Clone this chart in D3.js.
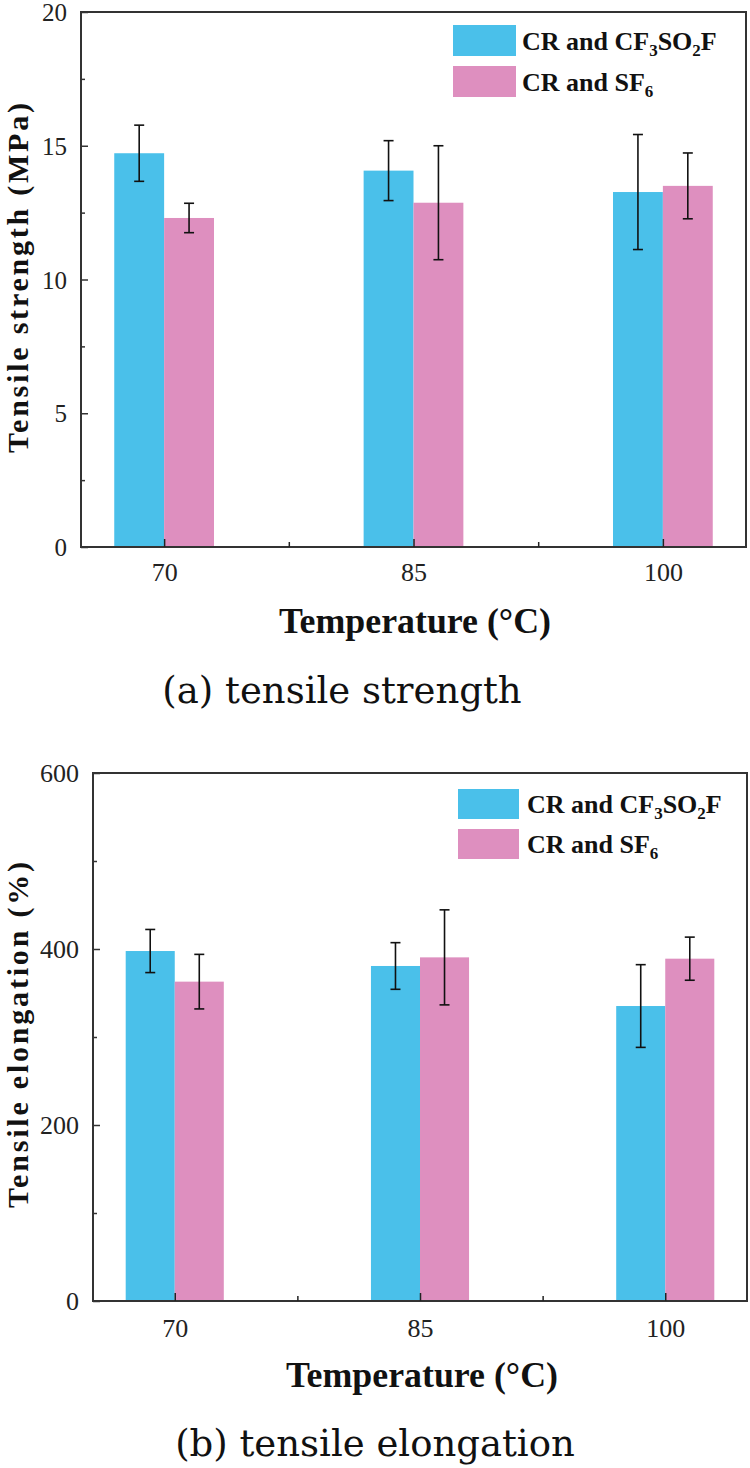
<!DOCTYPE html>
<html>
<head>
<meta charset="utf-8">
<script src="https://cdn.jsdelivr.net/npm/d3@7"></script>
<style>
  html, body { margin: 0; padding: 0; background: #fff; }
  svg { display: block; }
</style>
</head>
<body>
<div id="chart"></div>
<script>
// ---------------- data ----------------
const temperatures = [70, 85, 100];
const xTickValues = [70, 85, 100];
const xMinorTicks = [77.5, 92.5];

const seriesNames = ["CR and CF3SO2F", "CR and SF6"];

const strengthCF3SO2F = [14.72, 14.07, 13.27];
const strengthCF3SO2FErr = [1.05, 1.12, 2.15];
const strengthSF6 = [12.30, 12.87, 13.50];
const strengthSF6Err = [0.55, 2.13, 1.23];
const strengthTicks = [0, 5, 10, 15, 20];
const strengthMinorTicks = [2.5, 7.5, 12.5, 17.5];

const elongationCF3SO2F = [397.7, 380.7, 335.2];
const elongationCF3SO2FErr = [24.5, 26.5, 47];
const elongationSF6 = [362.9, 390.5, 389.0];
const elongationSF6Err = [31, 54, 24.5];
const elongationTicks = [0, 200, 400, 600];
const elongationMinorTicks = [100, 300, 500];

// ---------------- style ----------------
const COLORS = ["#4AC0EA", "#DE8FBF"];
const SERIF = "Liberation Serif";
const CAPTION_FONT = "DejaVu Serif";
const BAR_W = 3; // bar width in temperature units

const W = 750, H = 1468;
const svg = d3.select("#chart").append("svg")
  .attr("width", W).attr("height", H);

function drawPanel(p) {
  const x = d3.scaleLinear().domain([65, 105]).range([p.left, p.right]);
  const y = d3.scaleLinear().domain(p.yDomain).range([p.bottom, p.top]);
  const g = svg.append("g");

  const series = [
    { vals: p.s1, errs: p.e1, color: COLORS[0], off: -BAR_W },
    { vals: p.s2, errs: p.e2, color: COLORS[1], off: 0 }
  ];

  // bars
  series.forEach(s => {
    g.selectAll(null).data(temperatures).enter().append("rect")
      .attr("x", (t) => x(t + s.off))
      .attr("width", (t) => x(t + s.off + BAR_W) - x(t + s.off))
      .attr("y", (t, i) => y(s.vals[i]))
      .attr("height", (t, i) => y(0) - y(s.vals[i]))
      .attr("fill", s.color);
  });

  // error bars
  series.forEach(s => {
    temperatures.forEach((t, i) => {
      const cx = x(t + s.off + BAR_W / 2);
      const hi = y(s.vals[i] + s.errs[i]);
      const lo = y(s.vals[i] - s.errs[i]);
      g.append("line").attr("x1", cx).attr("x2", cx).attr("y1", hi).attr("y2", lo)
        .attr("stroke", "#111").attr("stroke-width", 1.6);
      [hi, lo].forEach(v => g.append("line")
        .attr("x1", cx - 5).attr("x2", cx + 5).attr("y1", v).attr("y2", v)
        .attr("stroke", "#111").attr("stroke-width", 1.6));
    });
  });

  // frame
  g.append("rect")
    .attr("x", p.left).attr("y", p.top)
    .attr("width", p.right - p.left).attr("height", p.bottom - p.top)
    .attr("fill", "none").attr("stroke", "#333").attr("stroke-width", 2);

  // y axis (ticks inward)
  const yAxis = d3.axisLeft(y).tickValues(p.yTicks).tickSize(-7).tickPadding(20)
    .tickFormat(d3.format("d"));
  const ya = g.append("g").attr("transform", `translate(${p.left},0)`).call(yAxis);
  ya.attr("font-family", null).attr("font-size", null);
  ya.select(".domain").remove();
  ya.selectAll(".tick line").attr("stroke", "#333").attr("stroke-width", 1.5);
  ya.selectAll(".tick text").style("font-family", SERIF).style("font-size", p.yTickFont + "px")
    .attr("fill", "#222").attr("x", -14).attr("dy", "0.34em");
  const yMinor = d3.axisLeft(y).tickValues(p.yMinor).tickSize(-4).tickFormat("");
  const ym = g.append("g").attr("transform", `translate(${p.left},0)`).call(yMinor);
  ym.select(".domain").remove();
  ym.selectAll(".tick line").attr("stroke", "#333").attr("stroke-width", 1.5);

  // x axis (ticks inward)
  const xAxis = d3.axisBottom(x).tickValues(xTickValues).tickSize(-8).tickPadding(0)
    .tickFormat(d3.format("d"));
  const xa = g.append("g").attr("transform", `translate(0,${p.bottom})`).call(xAxis);
  xa.attr("font-family", null).attr("font-size", null);
  xa.select(".domain").remove();
  xa.selectAll(".tick line").attr("stroke", "#222").attr("stroke-width", 1.5);
  xa.selectAll(".tick text").style("font-family", SERIF).style("font-size", "26px")
    .attr("fill", "#222").attr("y", p.xTickBaseline - p.bottom).attr("dy", 0);
  const xMinor = d3.axisBottom(x).tickValues(xMinorTicks).tickSize(-5).tickFormat("");
  const xm = g.append("g").attr("transform", `translate(0,${p.bottom})`).call(xMinor);
  xm.select(".domain").remove();
  xm.selectAll(".tick line").attr("stroke", "#222").attr("stroke-width", 1.5);

  // x title
  g.append("text").attr("x", p.xTitleX).attr("y", p.xTitleY)
    .attr("text-anchor", "middle").style("font-family", SERIF).style("font-weight", "bold")
    .style("font-size", "35px").attr("fill", "#111")
    .attr("textLength", 272).attr("lengthAdjust", "spacingAndGlyphs")
    .text("Temperature (°C)");

  // y title
  g.append("text")
    .attr("transform", `translate(28,${p.yTitleY}) rotate(-90)`)
    .attr("text-anchor", "middle").style("font-family", SERIF).style("font-weight", "bold")
    .style("font-size", "30px").attr("fill", "#111")
    .attr("textLength", p.yTitleLen).attr("lengthAdjust", "spacing")
    .text(p.yTitle);

  // caption
  g.append("text").attr("x", p.capX).attr("y", p.capY)
    .attr("text-anchor", "middle").style("font-family", CAPTION_FONT)
    .style("font-size", "37px").attr("fill", "#111").text(p.caption);

  // legend
  const L = p.legend;
  [0, 1].forEach(i => {
    g.append("rect").attr("x", L.x).attr("y", L.y + i * L.gap)
      .attr("width", L.w).attr("height", L.h).attr("fill", COLORS[i]);
  });
  const t1 = g.append("text").attr("x", L.tx).attr("y", L.y + L.h / 2 + 9)
    .style("font-family", SERIF).style("font-weight", "bold").style("font-size", "26px").attr("fill", "#111");
  t1.append("tspan").text("CR and CF");
  t1.append("tspan").style("font-size", "17px").attr("dy", 6).text("3");
  t1.append("tspan").attr("dy", -6).text("SO");
  t1.append("tspan").style("font-size", "17px").attr("dy", 6).text("2");
  t1.append("tspan").attr("dy", -6).text("F");
  const t2 = g.append("text").attr("x", L.tx).attr("y", L.y + L.gap + L.h / 2 + 9)
    .style("font-family", SERIF).style("font-weight", "bold").style("font-size", "26px").attr("fill", "#111");
  t2.append("tspan").text("CR and SF");
  t2.append("tspan").style("font-size", "17px").attr("dy", 6).text("6");
}

drawPanel({
  left: 81, right: 746, top: 12, bottom: 547,
  yDomain: [0, 20], yTicks: strengthTicks, yMinor: strengthMinorTicks, yTickFont: 25,
  s1: strengthCF3SO2F, e1: strengthCF3SO2FErr, s2: strengthSF6, e2: strengthSF6Err,
  xTickBaseline: 581, xTitleX: 415, xTitleY: 633,
  yTitle: "Tensile strength (MPa)", yTitleY: 278, yTitleLen: 350,
  caption: "(a) tensile strength", capX: 342, capY: 703,
  legend: { x: 453, y: 25, w: 63, h: 31, gap: 41, tx: 522 }
});

drawPanel({
  left: 93, right: 747, top: 773, bottom: 1301,
  yDomain: [0, 600], yTicks: elongationTicks, yMinor: elongationMinorTicks, yTickFont: 26,
  s1: elongationCF3SO2F, e1: elongationCF3SO2FErr, s2: elongationSF6, e2: elongationSF6Err,
  xTickBaseline: 1337, xTitleX: 422, xTitleY: 1387,
  yTitle: "Tensile elongation (%)", yTitleY: 1035, yTitleLen: 346,
  caption: "(b) tensile elongation", capX: 375, capY: 1456,
  legend: { x: 458, y: 789, w: 61, h: 30, gap: 40, tx: 527 }
});
</script>
</body>
</html>
